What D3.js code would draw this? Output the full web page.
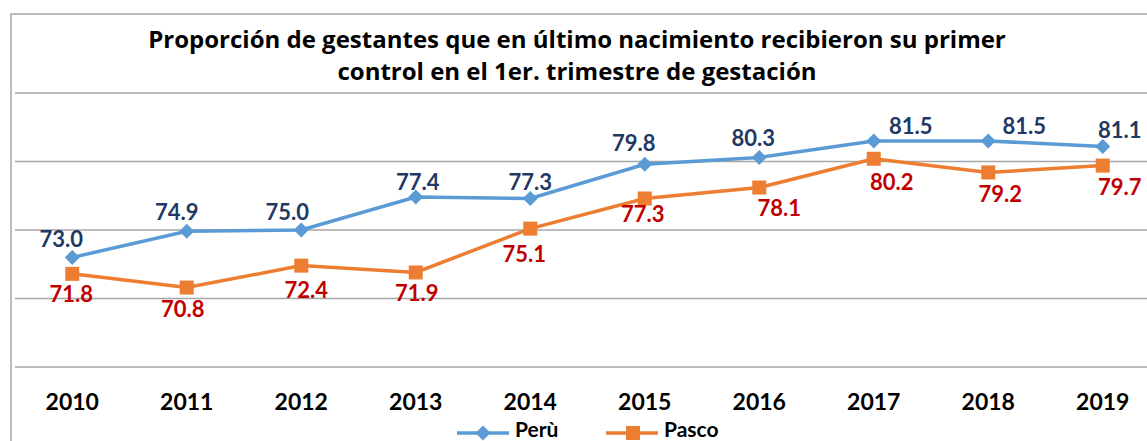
<!DOCTYPE html>
<html><head><meta charset="utf-8">
<script src="https://cdn.jsdelivr.net/npm/d3@7"></script>
<style>body{margin:0;background:#fff}svg{display:block}text{font-family:Lato,"Open Sans",sans-serif;font-weight:bold}</style>
</head><body>
<svg id="c" width="1147" height="441"></svg>
<script>
const titleLines = ["Proporción de gestantes que en último nacimiento recibieron su primer", "control en el 1er. trimestre de gestación"];
const years = ["2010","2011","2012","2013","2014","2015","2016","2017","2018","2019"];
const peru = [73.0,74.9,75.0,77.4,77.3,79.8,80.3,81.5,81.5,81.1];
const pasco = [71.8,70.8,72.4,71.9,75.1,77.3,78.1,80.2,79.2,79.7];
const seriesNames = ["Perù","Pasco"];
const yTicks = [65,70,75,80,85];
// label placement tweaks (px offsets from the point)
const peruLabelDx = [-11,-10,-14,2,0,-11,-6,37,36,17];
const peruLabelDy = [-10,-11,-10,-7,-8,-13,-11,-7,-7,-8];
const pascoLabelDx = [-1,-4,5,1,-6,-2,20,18,12,17];
const pascoLabelDy = [28,29,32,29,33,24,28,31,30,29];

const svg = d3.select("#c");
const W = 1147, H = 441;
const plotL = 15, plotR = 1160;
const x = d3.scaleBand().domain(years).range([plotL, plotR]);
const y = d3.scaleLinear().domain([65,85]).range([367,93]);
const cx = d => x(d) + x.bandwidth()/2;

// outer border
svg.append("rect").attr("x",11).attr("y",14).attr("width",W+20).attr("height",H+20)
  .attr("fill","#fff").attr("stroke","#a6a6a6").attr("stroke-width",1.5);

// gridlines
svg.append("g").selectAll("line").data(yTicks).join("line")
  .attr("x1",plotL).attr("x2",W).attr("y1",d=>y(d)).attr("y2",d=>y(d))
  .attr("stroke","#a6a6a6").attr("stroke-width",1.5);

// title
svg.append("g").selectAll("text").data(titleLines).join("text")
  .attr("x",577).attr("y",(d,i)=>48+i*32).attr("text-anchor","middle")
  .style("font-family","'Open Sans',sans-serif")
  .attr("font-size",24).attr("fill","#000").text(d=>d);

// x axis labels
svg.append("g").selectAll("text").data(years).join("text")
  .attr("x",d=>cx(d)).attr("y",410).attr("text-anchor","middle")
  .attr("font-size",23).attr("fill","#000").text(d=>d);

const line = d3.line().x((d,i)=>cx(years[i])).y(d=>y(d));
const blue = "#5b9bd5", orange = "#ed7d31";

svg.append("path").datum(pasco).attr("d",line).attr("fill","none").attr("stroke",orange).attr("stroke-width",3.5);
svg.append("path").datum(peru).attr("d",line).attr("fill","none").attr("stroke",blue).attr("stroke-width",3.5);

// markers
svg.append("g").selectAll("rect").data(pasco).join("rect")
  .attr("x",(d,i)=>cx(years[i])-7).attr("y",d=>y(d)-7).attr("width",14).attr("height",14).attr("fill",orange);
const diamond = s => `M0,${-s}L${s},0L0,${s}L${-s},0Z`;
svg.append("g").selectAll("path").data(peru).join("path")
  .attr("transform",(d,i)=>`translate(${cx(years[i])},${y(d)})`).attr("d",diamond(7.5)).attr("fill",blue);

// data labels
svg.append("g").selectAll("text").data(peru).join("text")
  .attr("x",(d,i)=>cx(years[i])+peruLabelDx[i]).attr("y",(d,i)=>y(d)+peruLabelDy[i])
  .attr("text-anchor","middle").attr("font-size",22).attr("fill","#1f3864").text(d=>d.toFixed(1));
svg.append("g").selectAll("text").data(pasco).join("text")
  .attr("x",(d,i)=>cx(years[i])+pascoLabelDx[i]).attr("y",(d,i)=>y(d)+pascoLabelDy[i])
  .attr("text-anchor","middle").attr("font-size",22).attr("fill","#c00000").text(d=>d.toFixed(1));

// legend
const leg = svg.append("g");
const legItems = [{name:seriesNames[0],c:blue,x:457,m:"d"},{name:seriesNames[1],c:orange,x:606,m:"s"}];
legItems.forEach(it=>{
  leg.append("line").attr("x1",it.x).attr("x2",it.x+52).attr("y1",433).attr("y2",433).attr("stroke",it.c).attr("stroke-width",3.5);
  if(it.m==="d") leg.append("path").attr("transform",`translate(${it.x+26},433)`).attr("d",diamond(7.5)).attr("fill",it.c);
  else leg.append("rect").attr("x",it.x+20).attr("y",426).attr("width",14).attr("height",14).attr("fill",it.c);
  leg.append("text").attr("x",it.x+58).attr("y",437).attr("font-size",21).attr("fill","#000").text(it.name);
});
</script>
</body></html>
